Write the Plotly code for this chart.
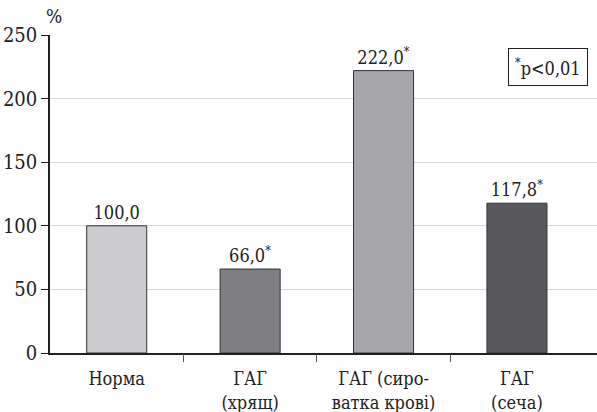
import plotly.graph_objects as go

categories = ["Норма", "ГАГ<br>(хрящ)", "ГАГ (сиро-<br>ватка крові)", "ГАГ<br>(сеча)"]
values = [100.0, 66.0, 222.0, 117.8]
value_labels = ["100,0", "66,0<sup>*</sup>", "222,0<sup>*</sup>", "117,8<sup>*</sup>"]
colors = ["#cbcbcd", "#7f7f83", "#a7a7ab", "#58585c"]
y_ticks = [0, 50, 100, 150, 200, 250]
x_pos = list(range(len(categories)))

FONT = "DejaVu Serif Condensed"

fig = go.Figure()
fig.add_trace(go.Bar(
    x=x_pos, y=values, width=0.45,
    marker=dict(color=colors, line=dict(color="#333333", width=1)),
    text=value_labels, textposition="outside", cliponaxis=False,
    textfont=dict(family=FONT, size=18, color="#222222"),
    showlegend=False,
))
fig.add_trace(go.Scatter(x=[0.5, 1.5, 2.5], y=[0, 0, 0], xaxis="x2",
                         mode="markers", marker=dict(opacity=0), showlegend=False,
                         hoverinfo="skip"))

fig.update_layout(
    width=597, height=412,
    margin=dict(l=50, r=0, t=35, b=59, autoexpand=False),
    plot_bgcolor="white", paper_bgcolor="white",
    font=dict(family=FONT, size=18, color="#222222"),
    xaxis=dict(range=[-0.5, 3.6], tickvals=x_pos, ticktext=categories,
               ticks="", showgrid=False, zeroline=False,
               showline=True, linecolor="#222222", linewidth=1.5,
               ticklabelstandoff=9,
               tickfont=dict(family=FONT, size=18, color="#222222")),
    xaxis2=dict(range=[-0.5, 3.6], overlaying="x", tickvals=[0.5, 1.5, 2.5],
                showticklabels=False, ticks="outside", ticklen=8,
                tickcolor="#555555", tickwidth=1, showgrid=False,
                zeroline=False, showline=False, side="bottom"),
    yaxis=dict(range=[0, 250], tickvals=y_ticks, ticks="outside", ticklen=7,
               tickcolor="#222222", showgrid=True, gridcolor="#d6d6d6",
               gridwidth=1, zeroline=False, showline=True,
               linecolor="#222222", linewidth=1.5,
               tickfont=dict(family=FONT, size=20, color="#222222")),
)

fig.add_annotation(text="%", x=0, y=1, xref="paper", yref="paper",
                   xanchor="left", yanchor="bottom", xshift=-6, yshift=6,
                   showarrow=False, font=dict(family=FONT, size=19, color="#222222"))
fig.add_annotation(text="<sup>*</sup>p<0,01", x=0.983, y=0.9, xref="paper",
                   yref="paper", xanchor="right", yanchor="middle",
                   showarrow=False, bordercolor="#222222", borderwidth=1,
                   borderpad=6, bgcolor="white",
                   font=dict(family=FONT, size=18, color="#222222"))

fig.write_html("out.html", config={"displayModeBar": False},
               post_script="document.body.style.margin='0';")
